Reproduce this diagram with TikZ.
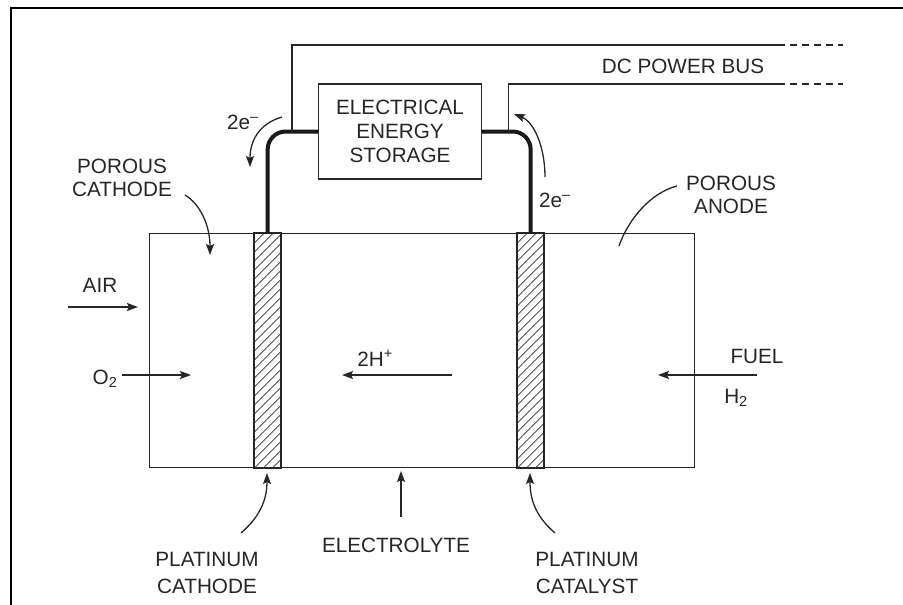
\documentclass[tikz,border=0pt]{standalone}
\usepackage{fontspec}
\setmainfont{Liberation Sans}
\usetikzlibrary{arrows.meta}
\begin{document}
\begin{tikzpicture}[x=1pt,y=1pt,
  ink/.style={draw=black!85, line width=1.3pt},
  lbl/.style={font=\fontsize{20.7}{23}\selectfont, text=black!85, inner sep=0pt, align=center},
  arr/.style={draw=black!85, line width=1.3pt, -{Stealth[length=11pt,width=8pt,inset=2pt]}},
  wire/.style={draw=black!90, line width=4pt, rounded corners=18pt},
  hatch/.style={draw=black!80, line width=0.7pt},
  busdash/.style={draw=black!85, line width=1.3pt, dash pattern=on 7pt off 5pt}
]
\useasboundingbox (0,0) rectangle (903,-605);
% frame
\draw[line width=2pt] (11,-605) -- (11,-8) -- (903,-8);

% cell and electrodes
\node[ink, minimum width=545pt, minimum height=234pt, anchor=north west, inner sep=0pt] (cell) at (149,-233) {};
\node[ink, minimum width=26pt, minimum height=234pt, anchor=north west, inner sep=0pt] (ls) at (254,-233) {};
\node[ink, minimum width=26pt, minimum height=234pt, anchor=north west, inner sep=0pt] (rs) at (517,-233) {};
\begin{scope}
  \clip (ls.south west) rectangle (ls.north east);
  \foreach \k in {-4,...,27} \draw[hatch] ([yshift=\k*9pt]ls.south west) -- ++(26,26);
\end{scope}
\begin{scope}
  \clip (rs.south west) rectangle (rs.north east);
  \foreach \k in {-4,...,27} \draw[hatch] ([yshift=\k*9pt]rs.south west) -- ++(26,26);
\end{scope}
\draw[ink] (ls.north west) rectangle (ls.south east);
\draw[ink] (rs.north west) rectangle (rs.south east);

% storage
\node[ink, lbl, minimum width=163pt, minimum height=95pt, inner sep=0pt, font=\fontsize{20.7}{24}\selectfont] (st) at (400,-131.5) {ELECTRICAL\\ENERGY\\STORAGE};
\draw[wire] (ls.north) |- (st.west);
\draw[wire] (rs.north) |- (st.east);

% bus
\coordinate (busL) at (292,-131.5);
\coordinate (busR) at (508.5,-131.5);
\coordinate (busTe) at (778,-45);
\coordinate (busTd) at (843,-45);
\coordinate (busBe) at (778,-84);
\coordinate (busBd) at (843,-84);
\draw[ink] (busL) |- (busTe);
\draw[busdash] (busTe) -- (busTd);
\draw[ink] (busR) |- (busBe);
\draw[busdash] (busBe) -- (busBd);
\node[lbl, anchor=base] (bus) at (683,-73) {DC POWER BUS};

% electrons
\node[lbl, anchor=base] (eL) at (243,-129) {2e\textsuperscript{–}};
\node[lbl, anchor=base] (eR) at (555,-207) {2e\textsuperscript{–}};
\coordinate (eLa) at (282,-117);
\coordinate (eLb) at (250,-167);
\coordinate (eRa) at (545,-177);
\coordinate (eRb) at (514,-114);
\draw[arr] (eLa) .. controls (258,-124) and (250,-142) .. (eLb);
\draw[arr] (eRa) .. controls (545,-147) and (534,-122) .. (eRb);

% porous cathode / anode
\node[lbl] (pc) at (122,-178) {POROUS\\CATHODE};
\coordinate (pcA) at (185,-195);
\coordinate (pcB) at (210,-255);
\draw[arr] (pcA) .. controls (200,-204) and (210,-225) .. (pcB);
\node[lbl] (pa) at (731,-195) {POROUS\\ANODE};
\coordinate (paA) at (677,-186);
\coordinate (paB) at (619,-246);
\draw[ink] (paA) .. controls (650,-193) and (628,-220) .. (paB);

% air / O2
\node[lbl, anchor=base] (air) at (100,-292) {AIR};
\coordinate (airA) at (68,-307);
\coordinate (airB) at (138,-307);
\draw[arr] (airA) -- (airB);
\node[lbl, anchor=base] (o2) at (105,-384) {O\textsubscript{2}};
\coordinate (o2A) at (122,-375);
\coordinate (o2B) at (191,-375);
\draw[arr] (o2A) -- (o2B);

% protons
\node[lbl, anchor=base] (hp) at (375,-366) {2H\textsuperscript{+}};
\coordinate (hpA) at (452,-375);
\coordinate (hpB) at (342,-375);
\draw[arr] (hpA) -- (hpB);

% fuel
\node[lbl, anchor=base] (fuel) at (757,-363) {FUEL};
\coordinate (fuA) at (757,-375);
\coordinate (fuB) at (658,-375);
\draw[arr] (fuA) -- (fuB);
\node[lbl, anchor=base] (h2) at (736,-403) {H\textsubscript{2}};

% bottom labels
\node[lbl, font=\fontsize{20.7}{27}\selectfont] (plc) at (207,-573) {PLATINUM\\CATHODE};
\coordinate (plcA) at (241,-533);
\coordinate (plcB) at (267,-473);
\draw[arr] (plcA) .. controls (262,-515) and (267,-497) .. (plcB);
\node[lbl, anchor=base] (el) at (396,-552) {ELECTROLYTE};
\coordinate (elA) at (401,-517);
\coordinate (elB) at (401,-471);
\draw[arr] (elA) -- (elB);
\node[lbl, font=\fontsize{20.7}{27}\selectfont] (plk) at (587,-573) {PLATINUM\\CATALYST};
\coordinate (plkA) at (555,-533);
\coordinate (plkB) at (530,-473);
\draw[arr] (plkA) .. controls (534,-515) and (530,-497) .. (plkB);
\end{tikzpicture}
\end{document}
